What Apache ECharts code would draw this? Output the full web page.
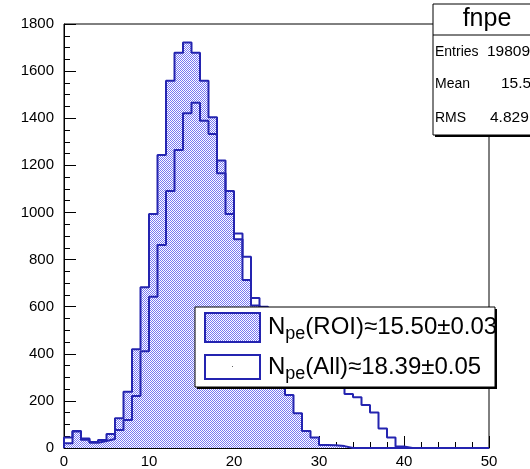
<!DOCTYPE html>
<html><head><meta charset="utf-8">
<script src="https://cdn.jsdelivr.net/npm/echarts@6/dist/echarts.min.js"></script>
<style>html,body{margin:0;padding:0;background:#fff;}#c{width:530px;height:469px;}</style>
</head><body><div id="c"></div>
<script>
// Bin lower edges (width 1)
const binLow = [0,1,2,3,4,5,6,7,8,9,10,11,12,13,14,15,16,17,18,19,20,21,22,23,24,25,26,27,28,29,30,31,32,33,34,35,36,37,38,39,40,41,42,43,44,45,46,47,48,49];
// N_pe (ROI) – filled histogram
const roiCounts = [20,70,40,25,34,59,126,239,419,682,993,1244,1559,1678,1721,1678,1559,1404,1220,1091,886,713,605,510,400,300,225,147,72,45,13,12,8,0,0,0,0,0,0,0,0,0,0,0,0,0,0,0,0,0];
// N_pe (All) – outline histogram
const allCounts = [45,72,35,22,30,38,76,119,221,411,642,862,1091,1265,1421,1466,1389,1333,1166,993,911,812,637,600,560,520,480,440,400,360,320,290,260,229,215,183,151,83,45,6,0,0,0,0,0,0,0,0,0,0];
const legendLabels = [['N','pe','(ROI)\u224815.50\u00b10.03'],['N','pe','(All)\u224818.39\u00b10.05']];
const statsTitle = 'fnpe';
const statsNames = ['Entries','Mean','RMS'];
const statsValues = ['19809','15.5','4.829'];

const FONT = "'Liberation Sans', Arial, Helvetica, sans-serif";
const LINE = '#2424b0';

function stepData(counts){
  const d=[[binLow[0],0]];
  counts.forEach((c,i)=>d.push([binLow[i],c]));
  const lastEdge = binLow[binLow.length-1]+1;
  d.push([lastEdge,counts[counts.length-1]]);
  d.push([lastEdge,0]);
  return d;
}
function makePattern(){
  const c=document.createElement('canvas'); c.width=2; c.height=2;
  const g=c.getContext('2d');
  g.fillStyle='#ffffff'; g.fillRect(0,0,2,2);
  g.fillStyle='#7878f2'; g.fillRect(0,0,1,1); g.fillRect(1,1,1,1);
  return c;
}
const pat = {image: makePattern(), repeat:'repeat'};
const mctx = document.createElement('canvas').getContext('2d');
function tw(text,size){ mctx.font = size+'px '+FONT; return mctx.measureText(text).width; }

const chart = echarts.init(document.getElementById('c'), null, {renderer:'canvas'});

const g = [];
g.push({type:'rect', shape:{x:197,y:309,width:300,height:80}, style:{fill:'#000'}, z:100});
g.push({type:'rect', shape:{x:195,y:307,width:300,height:80}, style:{fill:'#fff', stroke:'#000', lineWidth:1}, z:101});
g.push({type:'rect', shape:{x:205,y:313,width:55,height:29}, style:{fill:pat, stroke:LINE, lineWidth:2}, z:102});
g.push({type:'rect', shape:{x:205,y:355,width:55,height:24}, style:{fill:'#fff', stroke:LINE, lineWidth:2}, z:102});
g.push({type:'rect', shape:{x:232,y:366,width:1,height:1}, style:{fill:'#666'}, z:103});
const rowsY = [327.5, 367.5];
legendLabels.forEach((parts,i)=>{
  let x = 268;
  const y = rowsY[i];
  g.push({type:'text', x:x, y:y, style:{text:parts[0], font:'24px '+FONT, fill:'#000', textAlign:'left', textVerticalAlign:'middle', align:'left', verticalAlign:'middle'}, z:103});
  x += tw(parts[0],24);
  g.push({type:'text', x:x, y:y+7, style:{text:parts[1], font:'18px '+FONT, fill:'#000', textAlign:'left', textVerticalAlign:'middle', align:'left', verticalAlign:'middle'}, z:103});
  x += tw(parts[1],18);
  g.push({type:'text', x:x, y:y, style:{text:parts[2], font:'24px '+FONT, fill:'#000', textAlign:'left', textVerticalAlign:'middle', align:'left', verticalAlign:'middle'}, z:103});
});
g.push({type:'rect', shape:{x:435,y:6,width:110,height:131}, style:{fill:'#000'}, z:100});
g.push({type:'rect', shape:{x:433,y:4,width:110,height:131}, style:{fill:'#fff', stroke:'#000', lineWidth:1}, z:101});
g.push({type:'line', shape:{x1:433,y1:35,x2:540,y2:35}, style:{stroke:'#000', lineWidth:1}, z:102});
g.push({type:'text', x:487, y:19.5, style:{text:statsTitle, font:'25px '+FONT, fill:'#000', textAlign:'center', textVerticalAlign:'middle', align:'center', verticalAlign:'middle'}, z:103});
const statY=[52,84,118];
const statX=[487,501,490];
statsNames.forEach((n,i)=>{
  g.push({type:'text', x:435, y:statY[i], style:{text:n, font:'14px '+FONT, fill:'#000', textAlign:'left', textVerticalAlign:'middle', align:'left', verticalAlign:'middle'}, z:103});
  g.push({type:'text', x:statX[i], y:statY[i], style:{text:statsValues[i], font:'15.5px '+FONT, fill:'#000', textAlign:'left', textVerticalAlign:'middle', align:'left', verticalAlign:'middle'}, z:103});
});

chart.setOption({
  animation:false,
  backgroundColor:'#fff',
  grid:{left:64, right:41, top:24, bottom:21, show:true, borderColor:'#000', borderWidth:1, containLabel:false, outerBoundsMode:'none'},
  xAxis:{type:'value', min:0, max:50, interval:10,
    axisLine:{show:true, onZero:false, lineStyle:{color:'#000', width:1}},
    axisTick:{show:true, inside:true, length:12, lineStyle:{color:'#000'}},
    minorTick:{show:true, splitNumber:5, length:6, lineStyle:{color:'#000'}},
    axisLabel:{color:'#000', fontSize:15, fontFamily:FONT, margin:6, showMinLabel:true, showMaxLabel:true, formatter:v=>String(v)},
    splitLine:{show:false}},
  yAxis:{type:'value', min:0, max:1800, interval:200,
    axisLine:{show:true, lineStyle:{color:'#000', width:1}},
    axisTick:{show:true, inside:true, length:12, lineStyle:{color:'#000'}},
    minorTick:{show:true, splitNumber:4, length:6, lineStyle:{color:'#000'}},
    axisLabel:{color:'#000', fontSize:15, fontFamily:FONT, margin:10, formatter:v=>String(v)},
    splitLine:{show:false}},
  series:[
    {type:'line', name:'ROI', data:stepData(roiCounts), step:'end', symbol:'none', showSymbol:false,
      lineStyle:{color:LINE, width:2}, areaStyle:{color:pat, opacity:1}, z:2},
    {type:'line', name:'All', data:stepData(allCounts), step:'end', symbol:'none', showSymbol:false,
      lineStyle:{color:LINE, width:2}, z:3}
  ],
  graphic:{elements:g}
});
</script></body></html>
